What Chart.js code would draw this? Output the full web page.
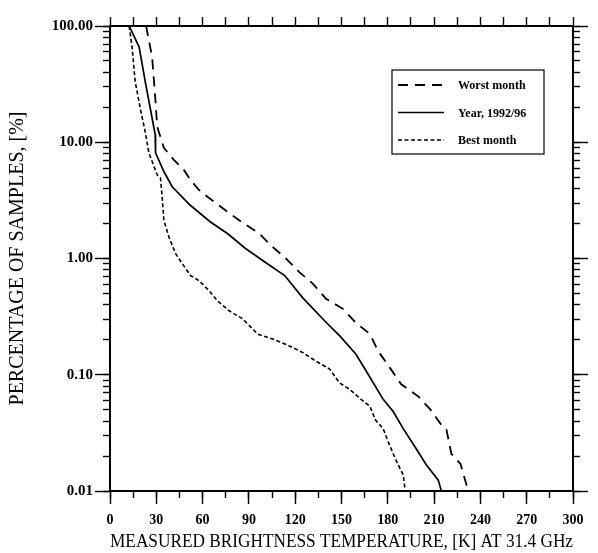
<!DOCTYPE html>
<html>
<head>
<meta charset="utf-8">
<script src="https://cdn.jsdelivr.net/npm/chart.js@4/dist/chart.umd.min.js"></script>
<style>
  body { margin: 0; background: #fff; }
  canvas { display: block; }
</style>
</head>
<body>
<canvas id="chart" width="598" height="553"></canvas>
<script>
// Werte (Temperatur in K, Anteil in %)
const worstT = [23.4, 27.3, 29.3, 30.6, 34.9, 41.4, 47.9, 52.2, 57.7, 64.2, 74.8, 83.7, 96.7, 104.1, 113.0, 122.8, 131.4, 139.9, 150.9, 159.4, 168.5, 173.7, 181.5, 188.7, 199.7, 207.5, 214.1, 218.0, 221.2, 227.1, 231.0, 231.6];
const worstP = [100, 53.9, 24.3, 13.6, 8.96, 7.05, 5.78, 4.73, 3.88, 3.31, 2.60, 2.13, 1.64, 1.30, 1.03, 0.760, 0.608, 0.451, 0.369, 0.279, 0.224, 0.160, 0.114, 0.0827, 0.0652, 0.0503, 0.0380, 0.0337, 0.0209, 0.0171, 0.0113, 0.01];

const yearT = [12.4, 18.9, 22.8, 26.0, 29.3, 29.5, 34.9, 40.3, 52.0, 65.1, 76.1, 87.8, 100.8, 113.2, 124.9, 139.2, 149.0, 159.4, 169.2, 177.0, 183.5, 190.0, 198.4, 204.9, 212.7, 214.7];
const yearP = [100, 65.8, 33.4, 19.9, 11.6, 8.1, 5.6, 4.14, 2.87, 2.06, 1.64, 1.22, 0.923, 0.713, 0.459, 0.290, 0.215, 0.150, 0.0914, 0.0614, 0.0483, 0.0344, 0.0231, 0.0168, 0.0124, 0.01];

const bestT = [12.4, 14.3, 16.3, 19.5, 22.8, 25.2, 30.6, 32.7, 33.8, 34.9, 38.2, 42.5, 46.8, 52.2, 57.7, 64.2, 69.6, 77.2, 85.9, 95.6, 105.4, 116.3, 124.9, 133.4, 142.3, 148.8, 155.3, 162.7, 168.5, 171.8, 177.0, 180.2, 183.5, 186.7, 190.0, 191.3];
const bestP = [100, 65.8, 33.4, 19.9, 12.3, 8.1, 5.23, 4.93, 3.37, 2.13, 1.53, 1.10, 0.905, 0.713, 0.645, 0.529, 0.433, 0.355, 0.303, 0.224, 0.203, 0.177, 0.155, 0.131, 0.112, 0.085, 0.0749, 0.0614, 0.0534, 0.0412, 0.0344, 0.0266, 0.0209, 0.0168, 0.0138, 0.01];

const seriesLabels = ["Worst month", "Year, 1992/96", "Best month"];

// Achsen
const xMin = 0, xMax = 300, xStep = 15, xLabelStep = 30;
const yDecades = [0.01, 0.1, 1, 10, 100];
const xTitle = "MEASURED BRIGHTNESS TEMPERATURE, [K] AT 31.4 GHz";
const yTitle = "PERCENTAGE OF SAMPLES, [%]";

// log-Ticks 1..9 pro Dekade
const yTickVals = [];
for (let i = 0; i < yDecades.length - 1; i++) {
  for (let k = 1; k <= 9; k++) yTickVals.push(+(yDecades[i] * k).toPrecision(6));
}
yTickVals.push(yDecades[yDecades.length - 1]);

const pts = (xs, ys) => xs.map((x, i) => ({ x, y: ys[i] }));
const setTicks = (s) => { s.ticks = yTickVals.map((v) => ({ value: v, major: yDecades.includes(v) })); };
const isDecade = (ctx) => ctx.tick && yDecades.includes(ctx.tick.value);
const isXMajor = (ctx) => ctx.tick && ctx.tick.value % xLabelStep === 0;

const serif = "'Liberation Serif', serif";

// Legende im Diagramm
const boxLegend = {
  id: "boxLegend",
  afterDraw(chart) {
    const c = chart.ctx;
    const x0 = 392, y0 = 70, w = 152, h = 84;
    c.save();
    c.strokeStyle = "#000";
    c.lineWidth = 1.2;
    c.strokeRect(x0, y0, w, h);
    chart.data.datasets.forEach((ds, i) => {
      const y = y0 + 15 + i * 27.5;
      c.beginPath();
      c.setLineDash(ds.borderDash || []);
      c.lineWidth = ds.borderWidth;
      c.moveTo(x0 + 6, y);
      c.lineTo(x0 + 52, y);
      c.stroke();
      c.setLineDash([]);
      c.fillStyle = "#000";
      c.font = "bold 12px " + serif;
      c.textBaseline = "middle";
      c.fillText(ds.label, x0 + 66, y + 1);
    });
    c.restore();
  },
};

new Chart(document.getElementById("chart"), {
  type: "line",
  data: {
    datasets: [
      { label: seriesLabels[0], data: pts(worstT, worstP), borderColor: "#000", borderWidth: 1.8, borderDash: [10, 7] },
      { label: seriesLabels[1], data: pts(yearT, yearP), borderColor: "#000", borderWidth: 1.7 },
      { label: seriesLabels[2], data: pts(bestT, bestP), borderColor: "#000", borderWidth: 1.6, borderDash: [4, 2.5] },
    ],
  },
  options: {
    responsive: false,
    animation: false,
    devicePixelRatio: 1,
    layout: { padding: { left: 0, top: 26, right: 25, bottom: 0 } },
    elements: { point: { radius: 0 }, line: { tension: 0 } },
    plugins: { legend: { display: false }, tooltip: { enabled: false } },
    scales: {
      x: {
        type: "linear", position: "bottom", min: xMin, max: xMax,
        ticks: {
          stepSize: xStep, autoSkip: false, maxRotation: 0, color: "#000",
          font: { family: serif, size: 14, weight: "bold" }, padding: 8,
          callback: (v) => (v % xLabelStep === 0 ? String(v) : ""),
        },
        grid: { drawOnChartArea: false, tickLength: 13, tickWidth: 1.4, tickColor: (ctx) => (isXMajor(ctx) ? "#000" : "rgba(0,0,0,0)") },
        border: { color: "#000", width: 2 },
        title: {
          display: true, text: xTitle, color: "#000",
          font: { family: serif, size: 18.5 },
          padding: { top: 0, bottom: 0 },
        },
        afterFit: (s) => { s.height = 62; },
      },
      xMinor: {
        type: "linear", position: "bottom", weight: -1, min: xMin, max: xMax,
        ticks: { stepSize: xStep, display: false },
        grid: { drawOnChartArea: false, tickLength: 7, tickWidth: 1.4, tickColor: "#000" },
        border: { display: false },
        afterFit: (s) => { s.height = 0; },
      },
      xTop: {
        type: "linear", position: "top", min: xMin, max: xMax,
        ticks: { stepSize: xStep, display: false },
        grid: { drawOnChartArea: false, tickLength: 9, tickWidth: 1.4, tickColor: "#000" },
        border: { color: "#000", width: 2 },
        afterFit: (s) => { s.height = 0; },
      },
      y: {
        type: "logarithmic", position: "left", min: 0.01, max: 100,
        afterBuildTicks: setTicks,
        ticks: {
          autoSkip: false, color: "#000", font: { family: serif, size: 15, weight: "bold" }, padding: 2,
          callback: (v) => (yDecades.includes(v) ? v.toFixed(2) : ""),
        },
        grid: { drawOnChartArea: false, tickLength: 15, tickWidth: 1.4, tickColor: (ctx) => (isDecade(ctx) ? "#000" : "rgba(0,0,0,0)") },
        border: { color: "#000", width: 2 },
        title: {
          display: true, text: yTitle, color: "#000",
          font: { family: serif, size: 20 },
          padding: { top: 6, bottom: 0 },
        },
        afterFit: (s) => { s.width = 110; },
      },
      yMinor: {
        type: "logarithmic", position: "left", weight: -1, min: 0.01, max: 100,
        afterBuildTicks: setTicks,
        ticks: { display: false, autoSkip: false },
        grid: { drawOnChartArea: false, tickLength: 7, tickWidth: 1.4, tickColor: "#000" },
        border: { display: false },
        afterFit: (s) => { s.width = 0; },
      },
      yRight: {
        type: "logarithmic", position: "right", min: 0.01, max: 100,
        afterBuildTicks: setTicks,
        ticks: { display: false, autoSkip: false },
        grid: { drawOnChartArea: false, tickLength: 15, tickWidth: 1.4, tickColor: (ctx) => (isDecade(ctx) ? "#000" : "rgba(0,0,0,0)") },
        border: { color: "#000", width: 2 },
        afterFit: (s) => { s.width = 0; },
      },
      yRightMinor: {
        type: "logarithmic", position: "right", weight: -1, min: 0.01, max: 100,
        afterBuildTicks: setTicks,
        ticks: { display: false, autoSkip: false },
        grid: { drawOnChartArea: false, tickLength: 7, tickWidth: 1.4, tickColor: "#000" },
        border: { display: false },
        afterFit: (s) => { s.width = 0; },
      },
    },
  },
  plugins: [boxLegend],
});
</script>
</body>
</html>
